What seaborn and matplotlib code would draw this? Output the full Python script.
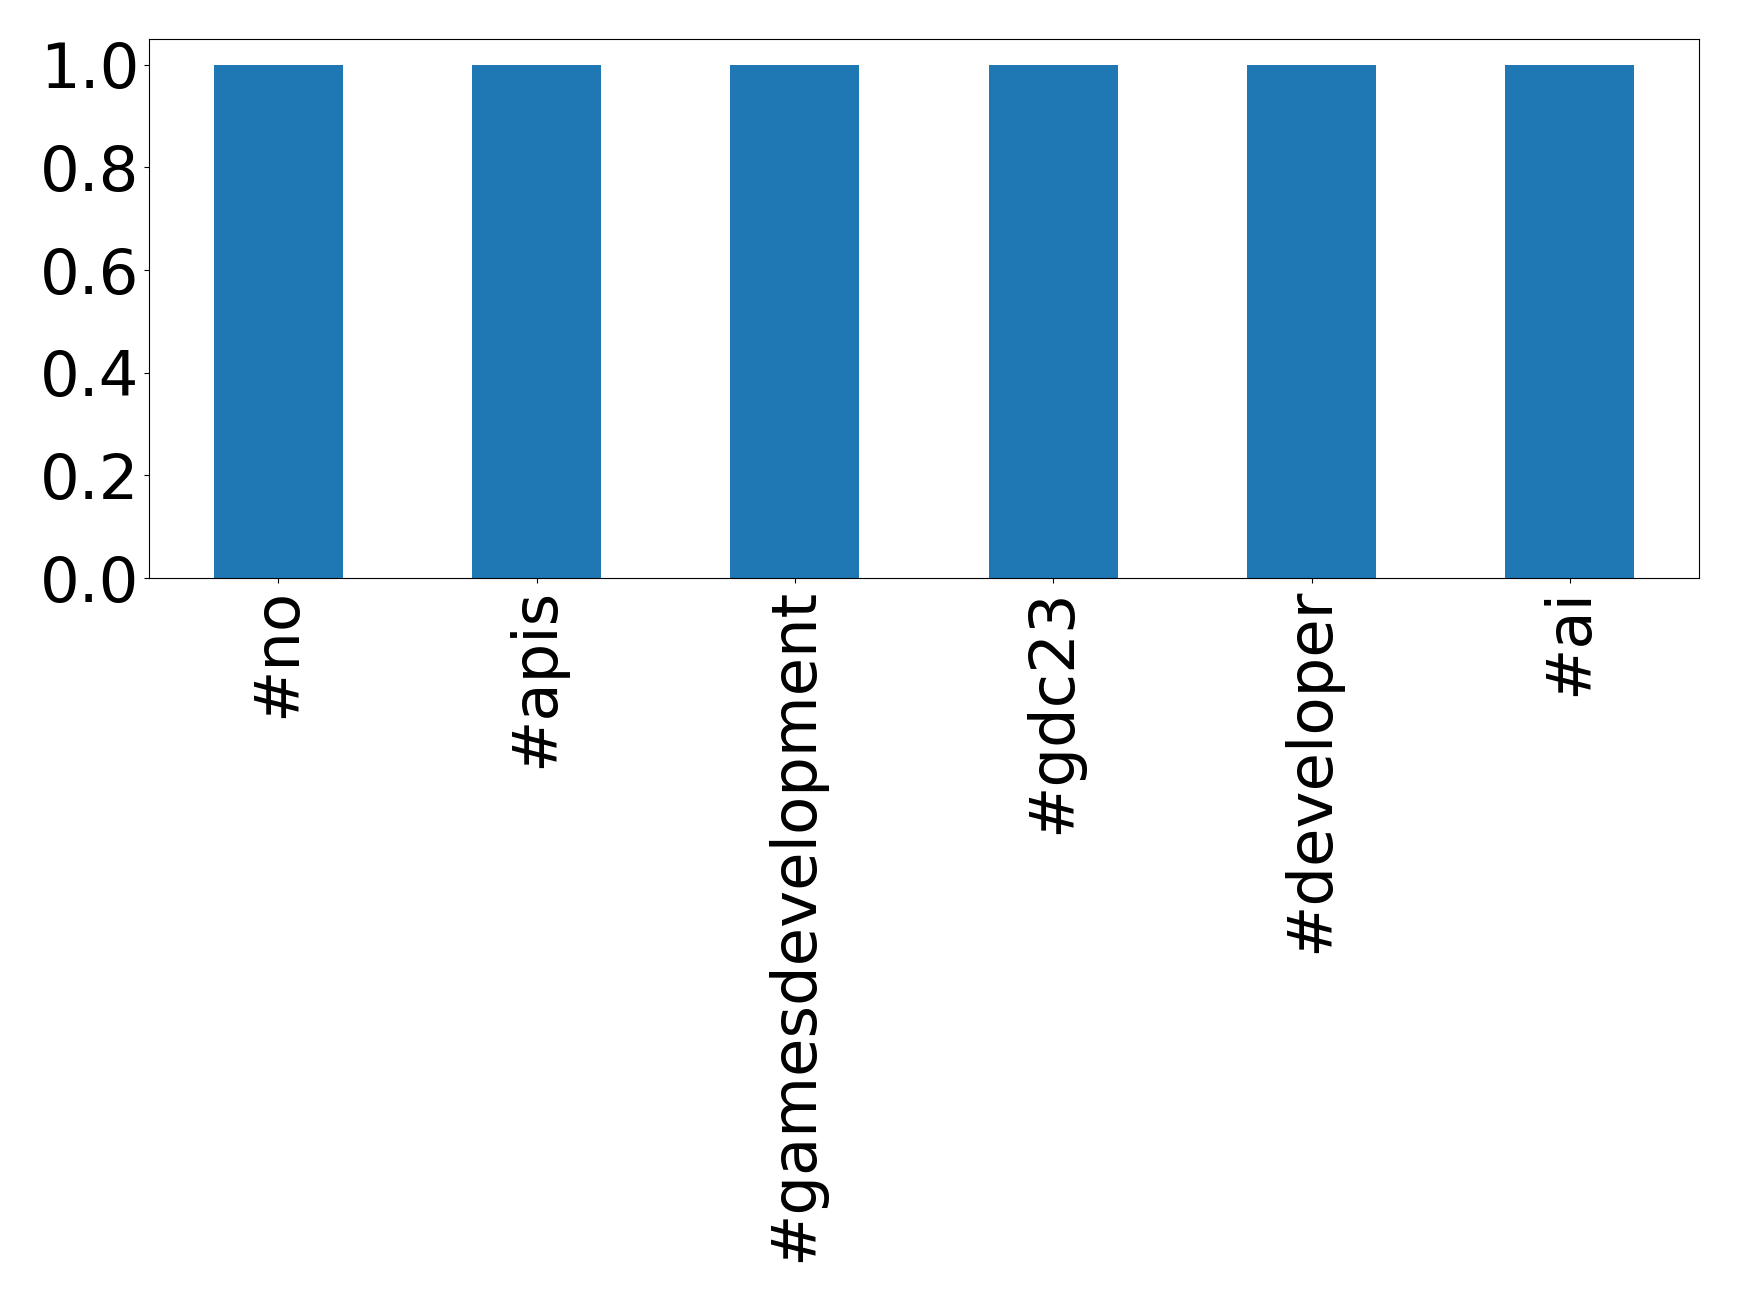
import matplotlib
matplotlib.use('Agg')
import matplotlib.pyplot as plt
import seaborn as sns
import pandas as pd

# hashtag counts
hashtags = ['#no', '#apis', '#gamesdevelopment', '#gdc23', '#developer', '#ai']
counts = [1, 1, 1, 1, 1, 1]
yticks = [0.0, 0.2, 0.4, 0.6, 0.8, 1.0]

df = pd.DataFrame({'hashtag': hashtags, 'count': counts})

fig = plt.figure(figsize=(17.39, 13.02), dpi=100)
ax = fig.add_axes([0.0857, 0.556, 0.8913, 0.414])
sns.barplot(x='hashtag', y='count', data=df, color='#1f77b4', saturation=1,
            width=0.5, ax=ax)
ax.set_xlim(-0.5, len(hashtags) - 0.5)
ax.set_ylim(0, 1.05)
ax.set_yticks(yticks)
ax.set_xlabel('')
ax.set_ylabel('')
ax.tick_params(axis='both', labelsize=45)
plt.xticks(rotation=90)
plt.savefig('out.png', dpi=100)
